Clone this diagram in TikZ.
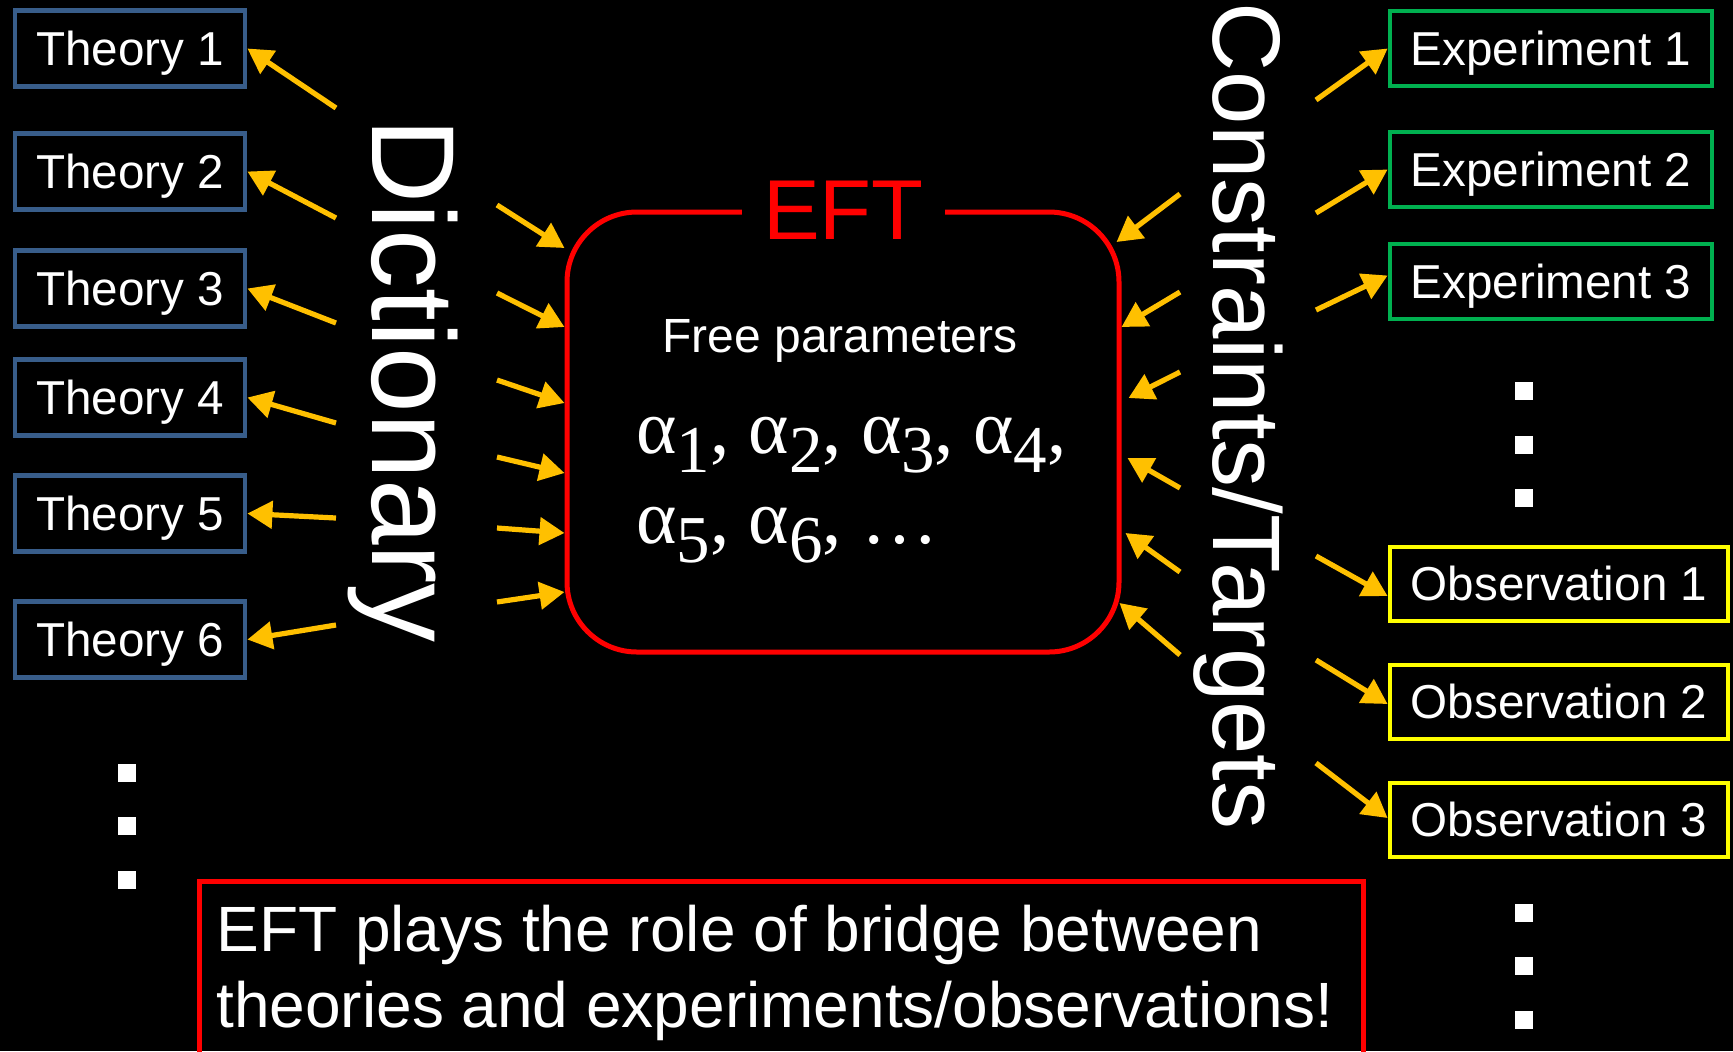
\documentclass[tikz,border=0pt]{standalone}
\usepackage{fontspec}
\setmainfont{Liberation Sans}
\newfontfamily\greekfont{Liberation Serif}
\usetikzlibrary{arrows.meta,calc}
\definecolor{arrowgold}{RGB}{255,192,0}
\definecolor{theoryblue}{RGB}{56,93,138}
\definecolor{exptgreen}{RGB}{0,176,80}
\definecolor{obsyellow}{RGB}{255,255,0}
\definecolor{eftred}{RGB}{255,0,0}

\newcommand{\alphasub}[1]{α\raisebox{-9.5pt}{\fontsize{33.5}{33.5}\selectfont #1}}

\begin{document}
\begin{tikzpicture}[x=0.5pt, y=-0.5pt,
  boxtext/.style={line width=2.4pt, text=white, inner sep=0pt,
    font=\fontsize{23.8}{28}\selectfont, text height=16.8pt, text depth=0pt},
  theory/.style={boxtext, draw=theoryblue, minimum width=115pt, minimum height=38pt},
  expt/.style={boxtext, draw=exptgreen, minimum width=161pt, minimum height=37.5pt},
  obs/.style={boxtext, draw=obsyellow, minimum width=169pt, minimum height=37pt},
  goldarrow/.style={draw=arrowgold, line width=2.6pt, -{Triangle[length=12.5pt, width=13.5pt]}},
  eftbox/.style={draw=eftred, line width=2.5pt, rounded corners=35pt, minimum width=276pt, minimum height=220pt},
  vertlabel/.style={text=white, rotate=-90, inner sep=0pt, anchor=base west}]

  % Black slide background
  \useasboundingbox (0,0) rectangle (1733,1051);
  \fill[black] (0,0) rectangle (1733,1051);
  \clip (0,0) rectangle (1733,1051);

  % Theories (left column)
  \foreach \i/\yc in {1/48.5, 2/171.5, 3/288.5, 4/397.5, 5/513.5, 6/639.5}
    \node[theory] (t\i) at (130,\yc) {Theory \i};

  \foreach \i/\ys in {1/108, 2/218, 3/323, 4/423, 5/518, 6/625} {
    \coordinate (d\i) at (336,\ys);
    \draw[goldarrow] (d\i) -- (t\i.east);
  }

  % Vertical labels
  \node[vertlabel, font=\fontsize{59}{70}\selectfont] (dict) at (372,118) {Dictionary};
  \node[vertlabel, font=\fontsize{48}{58}\selectfont] (cons) at (1213,2) {Constraints/Targets};

  % EFT box
  \node[eftbox] (eft) at (843,432) {};
  \node[text=eftred, fill=black, inner xsep=10.5pt, inner ysep=2pt, anchor=base,
    font=\fontsize{42.5}{50}\selectfont] (eftname) at (843.5,239) {EFT};
  \node[text=white, anchor=base, font=\fontsize{24}{28}\selectfont] (freepar) at (840,352) {Free parameters};
  \node[text=white, anchor=base west, inner sep=0pt, font=\greekfont\fontsize{38.5}{42}\selectfont]
    (alist1) at (636,453) {\alphasub{1}, \alphasub{2}, \alphasub{3}, \alphasub{4},};
  \node[text=white, anchor=base west, inner sep=0pt, font=\greekfont\fontsize{38.5}{42}\selectfont]
    (alist2) at (636,543) {\alphasub{5}, \alphasub{6}, …};

  % Dictionary -> EFT
  \foreach \i/\ys/\dy in {1/205/-184, 2/293/-105, 3/380/-29, 4/457/41, 5/528/101, 6/602/160} {
    \coordinate (p\i) at (497,\ys);
    \draw[goldarrow] (p\i) -- ($(eft.west)+(0,\dy)$);
  }

  % Constraints -> EFT
  \foreach \i/\ys/\dx/\dy in {1/194/-5/-190, 2/292/0/-105, 3/372/7/-34, 4/488/6/26, 5/572/4/101, 6/655/-2/171} {
    \coordinate (c\i) at (1180,\ys);
    \draw[goldarrow] (c\i) -- ($(eft.east)+(\dx,\dy)$);
  }

  % Experiments and observations (right column)
  \foreach \i/\yc in {1/48.5, 2/169.5, 3/281.5}
    \node[expt] (e\i) at (1551,\yc) {Experiment \i};
  \foreach \i/\yc in {1/584, 2/702, 3/820}
    \node[obs] (o\i) at (1559,\yc) {Observation \i};

  \foreach \n/\ys/\dy in {e1/100/0, e2/213/0, e3/310/-6, o1/556/12, o2/660/2, o3/763/-2} {
    \coordinate (r\n) at (1316,\ys);
    \draw[goldarrow] (r\n) -- ($(\n.west)+(0,\dy)$);
  }

  % Vertical dots
  \foreach \yc in {773, 826, 880}
    \fill[white] (118,\yc-9) rectangle (136,\yc+9);
  \foreach \yc in {391, 445, 498, 913, 966, 1020}
    \fill[white] (1515,\yc-9) rectangle (1533,\yc+9);

  % Bottom message
  \node[draw=eftred, line width=2.4pt, minimum width=582pt, minimum height=150pt, anchor=north west]
    (caption) at (197,879) {};
  \node[text=white, align=left, inner sep=0pt, anchor=north west, font=\fontsize{32}{38}\selectfont]
    (capline) at (216,905) {EFT plays the role of bridge between\\theories and experiments/observations!};

\end{tikzpicture}
\end{document}
